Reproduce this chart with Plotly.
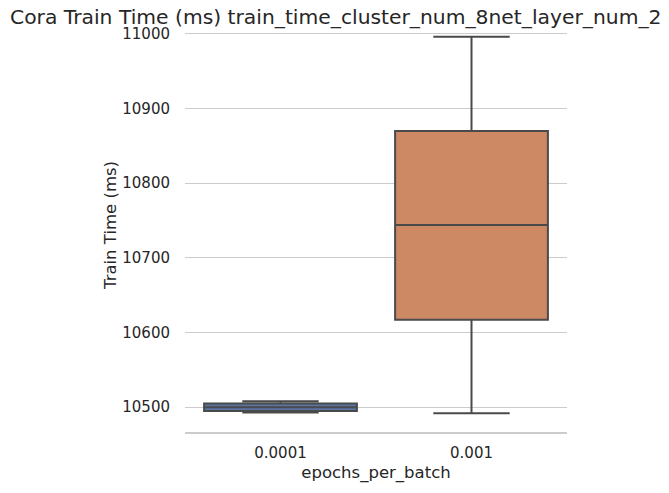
import plotly.graph_objects as go

# epochs_per_batch categories and box statistics (ms)
categories = ["0.0001", "0.001"]
lower_whisker = [10493, 10492]
q1_values = [10495, 10617]
medians = [10500, 10744]
q3_values = [10505, 10870]
upper_whisker = [10508, 10996]
box_colors = ["#5975a4", "#cc8963"]
y_ticks = [10500, 10600, 10700, 10800, 10900, 11000]

TEXT = "#262626"
EDGE = "#4a4a4a"

fig = go.Figure()
for i, cat in enumerate(categories):
    fig.add_trace(go.Box(
        x=[cat],
        q1=[q1_values[i]],
        median=[medians[i]],
        q3=[q3_values[i]],
        lowerfence=[lower_whisker[i]],
        upperfence=[upper_whisker[i]],
        fillcolor=box_colors[i],
        line=dict(color=EDGE, width=2),
        width=0.8,
        whiskerwidth=0.5,
        name=cat,
        hoverinfo="y",
    ))

# the page puts the figure 8px in from the top-left corner
fig.update_layout(
    width=661,
    height=485,
    margin=dict(l=177, r=102, t=10, b=61),
    paper_bgcolor="white",
    plot_bgcolor="white",
    showlegend=False,
    font=dict(family="DejaVu Sans", color=TEXT, size=15),
    title=dict(
        text="Cora Train Time (ms) train_time_cluster_num_8net_layer_num_2",
        x=2 / 661, xref="container", xanchor="left",
        y=1 - 9 / 485, yref="container", yanchor="middle",
        font=dict(size=20.3, color=TEXT),
    ),
)

fig.update_xaxes(
    type="category",
    range=[-0.5, 1.5],
    showgrid=False,
    showline=True,
    linecolor="#cccccc",
    linewidth=1.5,
    ticks="",
    ticklabelstandoff=6,
    tickfont=dict(size=15, color=TEXT),
    title=dict(text="epochs_per_batch", font=dict(size=16.5, color=TEXT), standoff=6),
)
fig.update_yaxes(
    range=[10466.8, 11021.2],
    tickvals=y_ticks,
    ticktext=[str(v) for v in y_ticks],
    showgrid=True,
    gridcolor="#cccccc",
    gridwidth=1.2,
    zeroline=False,
    showline=False,
    ticks="",
    ticklabelstandoff=14,
    tickfont=dict(size=15, color=TEXT),
    title=dict(text="Train Time (ms)", font=dict(size=16.5, color=TEXT), standoff=1),
)

fig.write_html("out.html")
